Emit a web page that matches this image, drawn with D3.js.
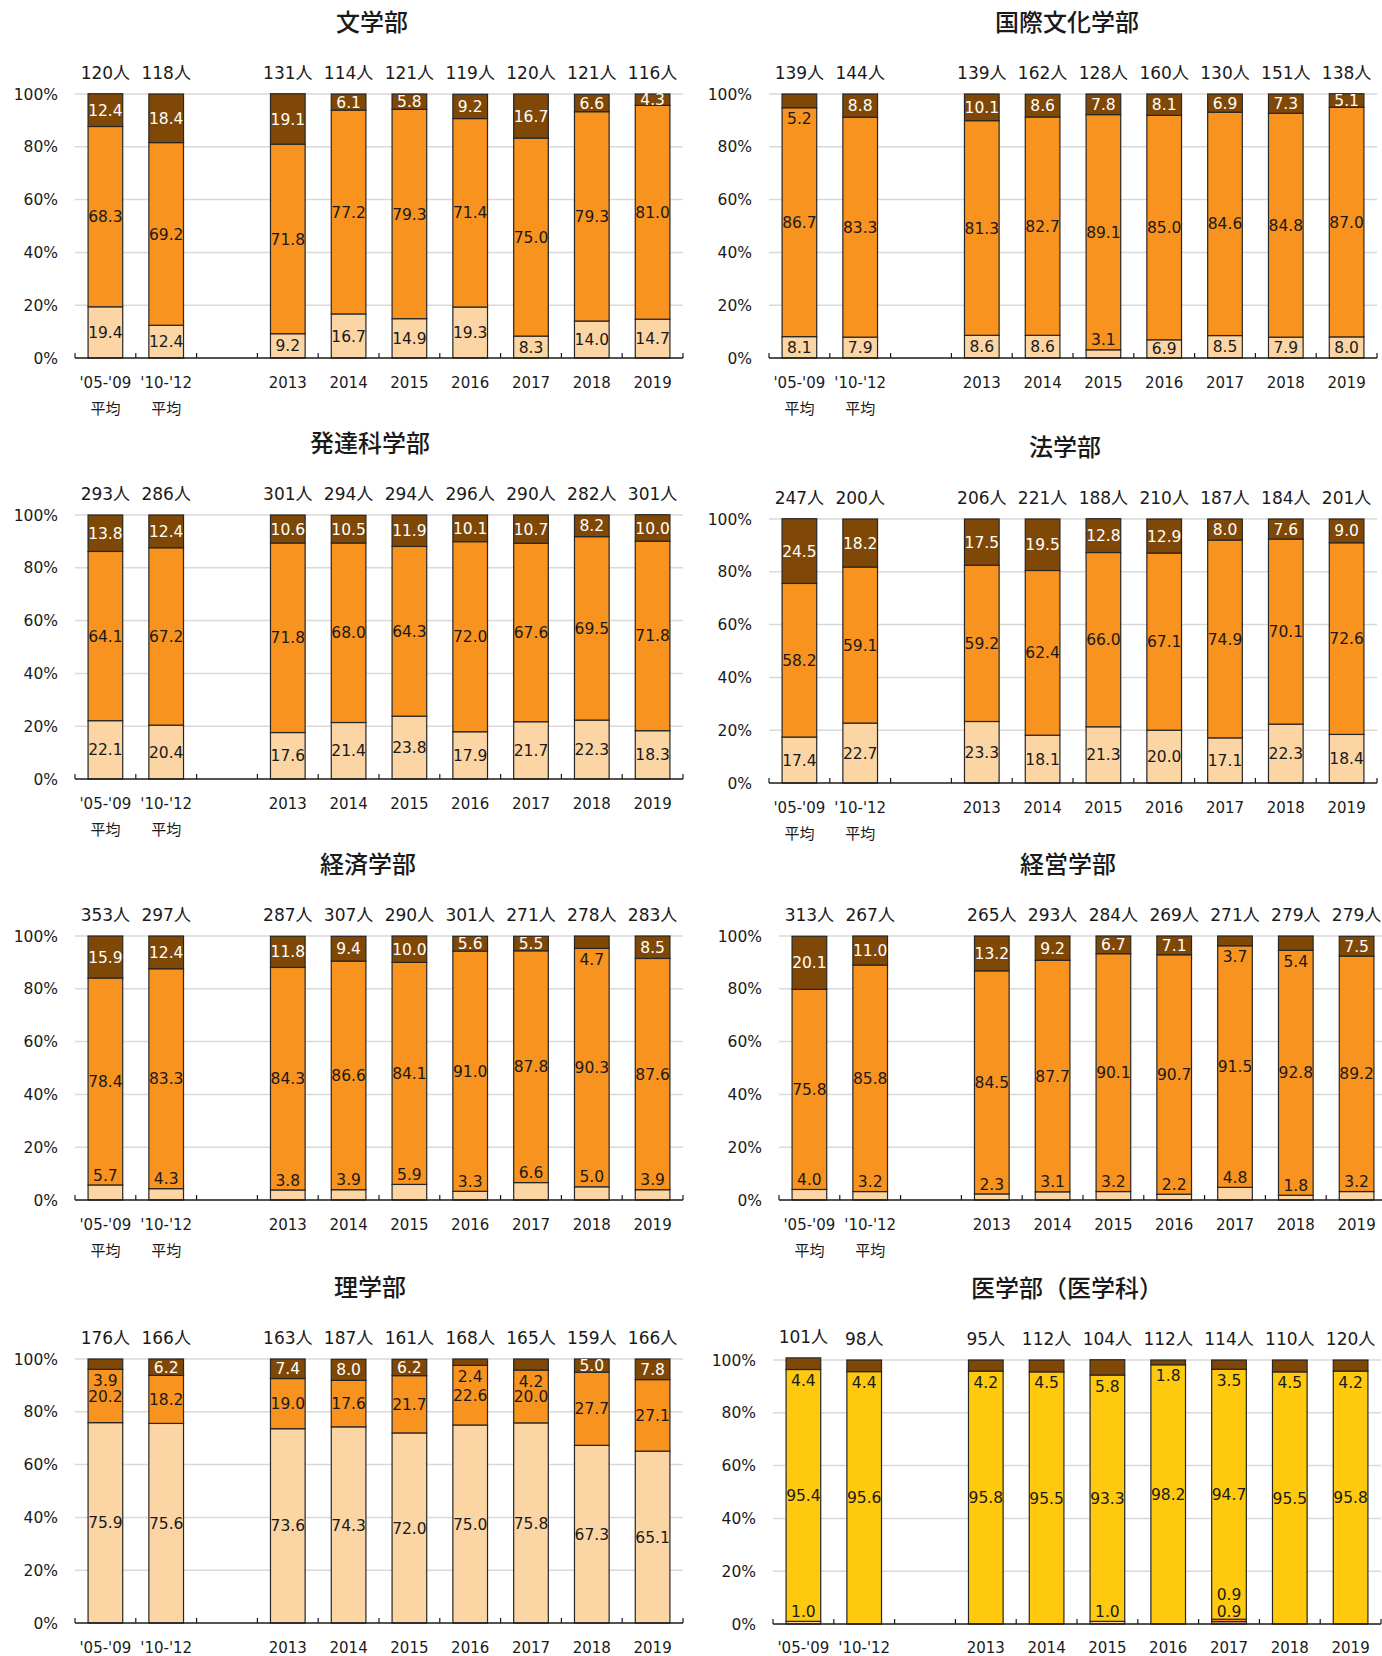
<!DOCTYPE html>
<html>
<head>
<meta charset="utf-8">
<script src="https://cdn.jsdelivr.net/npm/d3@7"></script>
<style>
  body { margin: 0; background: #fff; }
  text { font-family: "DejaVu Sans", "Noto Sans CJK JP", sans-serif; }
</style>
</head>
<body>
<div id="chart"></div>
<script>
// categories along the x axis (a blank slot sits between the averages and 2013)
const categories = ["'05-'09", "'10-'12", "2013", "2014", "2015", "2016", "2017", "2018", "2019"];
const avgNote = "平均";
const yTicks = [0, 20, 40, 60, 80, 100];
const facultyNames = ["文学部", "国際文化学部", "発達科学部", "法学部", "経済学部", "経営学部", "理学部", "医学部（医学科）"];

// 文学部
const bunCounts = [120, 118, 131, 114, 121, 119, 120, 121, 116];
const bunLow = [19.4, 12.4, 9.2, 16.7, 14.9, 19.3, 8.3, 14.0, 14.7];
const bunMid = [68.3, 69.2, 71.8, 77.2, 79.3, 71.4, 75.0, 79.3, 81.0];
const bunTop = [12.4, 18.4, 19.1, 6.1, 5.8, 9.2, 16.7, 6.6, 4.3];

// 国際文化学部
const kokCounts = [139, 144, 139, 162, 128, 160, 130, 151, 138];
const kokLow = [8.1, 7.9, 8.6, 8.6, 3.1, 6.9, 8.5, 7.9, 8.0];
const kokMid = [86.7, 83.3, 81.3, 82.7, 89.1, 85.0, 84.6, 84.8, 87.0];
const kokTop = [5.2, 8.8, 10.1, 8.6, 7.8, 8.1, 6.9, 7.3, 5.1];

// 発達科学部
const hatCounts = [293, 286, 301, 294, 294, 296, 290, 282, 301];
const hatLow = [22.1, 20.4, 17.6, 21.4, 23.8, 17.9, 21.7, 22.3, 18.3];
const hatMid = [64.1, 67.2, 71.8, 68.0, 64.3, 72.0, 67.6, 69.5, 71.8];
const hatTop = [13.8, 12.4, 10.6, 10.5, 11.9, 10.1, 10.7, 8.2, 10.0];

// 法学部
const houCounts = [247, 200, 206, 221, 188, 210, 187, 184, 201];
const houLow = [17.4, 22.7, 23.3, 18.1, 21.3, 20.0, 17.1, 22.3, 18.4];
const houMid = [58.2, 59.1, 59.2, 62.4, 66.0, 67.1, 74.9, 70.1, 72.6];
const houTop = [24.5, 18.2, 17.5, 19.5, 12.8, 12.9, 8.0, 7.6, 9.0];

// 経済学部
const keizCounts = [353, 297, 287, 307, 290, 301, 271, 278, 283];
const keizLow = [5.7, 4.3, 3.8, 3.9, 5.9, 3.3, 6.6, 5.0, 3.9];
const keizMid = [78.4, 83.3, 84.3, 86.6, 84.1, 91.0, 87.8, 90.3, 87.6];
const keizTop = [15.9, 12.4, 11.8, 9.4, 10.0, 5.6, 5.5, 4.7, 8.5];

// 経営学部
const keieCounts = [313, 267, 265, 293, 284, 269, 271, 279, 279];
const keieLow = [4.0, 3.2, 2.3, 3.1, 3.2, 2.2, 4.8, 1.8, 3.2];
const keieMid = [75.8, 85.8, 84.5, 87.7, 90.1, 90.7, 91.5, 92.8, 89.2];
const keieTop = [20.1, 11.0, 13.2, 9.2, 6.7, 7.1, 3.7, 5.4, 7.5];

// 理学部
const riCounts = [176, 166, 163, 187, 161, 168, 165, 159, 166];
const riLow = [75.9, 75.6, 73.6, 74.3, 72.0, 75.0, 75.8, 67.3, 65.1];
const riMid = [20.2, 18.2, 19.0, 17.6, 21.7, 22.6, 20.0, 27.7, 27.1];
const riTop = [3.9, 6.2, 7.4, 8.0, 6.2, 2.4, 4.2, 5.0, 7.8];

// 医学部（医学科）
const igaCounts = [101, 98, 95, 112, 104, 112, 114, 110, 120];
const igaLow = [1.0, 0, 0, 0, 1.0, 0, 0.9, 0, 0];
const igaMid = [0, 0, 0, 0, 0, 0, 0.9, 0, 0];
const igaMain = [95.4, 95.6, 95.8, 95.5, 93.3, 98.2, 94.7, 95.5, 95.8];
const igaTop = [4.4, 4.4, 4.2, 4.5, 5.8, 1.8, 3.5, 4.5, 4.2];

const colors = { low: "#fcd5a5", mid: "#f7931e", main: "#ffc90e", top: "#7f4806" };

const panels = [
  { name: facultyNames[0], counts: bunCounts, series: { low: bunLow, mid: bunMid, top: bunTop } },
  { name: facultyNames[1], counts: kokCounts, series: { low: kokLow, mid: kokMid, top: kokTop } },
  { name: facultyNames[2], counts: hatCounts, series: { low: hatLow, mid: hatMid, top: hatTop } },
  { name: facultyNames[3], counts: houCounts, series: { low: houLow, mid: houMid, top: houTop } },
  { name: facultyNames[4], counts: keizCounts, series: { low: keizLow, mid: keizMid, top: keizTop } },
  { name: facultyNames[5], counts: keieCounts, series: { low: keieLow, mid: keieMid, top: keieTop } },
  { name: facultyNames[6], counts: riCounts, series: { low: riLow, mid: riMid, top: riTop } },
  { name: facultyNames[7], counts: igaCounts, series: { low: igaLow, mid: igaMid, main: igaMain, top: igaTop } }
];

// where each small chart sits on the page
const layout = [
  { left: 75, top: 94, titleDx: -7, note: true },
  { left: 769, top: 94, titleDx: -6, note: true },
  { left: 75, top: 515, titleDx: -9, note: true },
  { left: 769, top: 519, titleDx: -8, note: true },
  { left: 75, top: 936, titleDx: -11, note: true },
  { left: 779, top: 936, titleDx: -15, note: true },
  { left: 75, top: 1359, titleDx: -9, note: false },
  { left: 773, top: 1360, titleDx: -10, note: false }
];
const plotW = 608, plotH = 264;

// labels that were pushed outside their small segment in the original
// [panel, category index, series]: "top" goes just under the segment, others just above it
const outside = [
  [1, 0, "top"], [1, 4, "low"],
  [4, 7, "top"],
  [5, 6, "top"], [5, 7, "top"],
  [6, 0, "top"], [6, 5, "top"], [6, 6, "top"],
  [7, 0, "low"], [7, 4, "low"], [7, 6, "low"], [7, 6, "mid"]
];
categories.forEach((c, i) => { outside.push([4, i, "low"]); outside.push([5, i, "low"]); });
categories.forEach((c, i) => { outside.push([7, i, "top"]); });
const isOutside = (p, i, k) => outside.some(o => o[0] === p && o[1] === i && o[2] === k);

const W = 1382, H = 1656;
const svg = d3.select("#chart").append("svg")
  .attr("width", W).attr("height", H)
  .style("background", "#fff");

const slots = [categories[0], categories[1], "gap"].concat(categories.slice(2));

panels.forEach((panel, p) => {
  const L = layout[p].left, T = layout[p].top;
  const g = svg.append("g");

  const x = d3.scaleBand().domain(slots).range([L, L + plotW])
    .paddingInner(0.43).paddingOuter(0.215);
  const y = d3.scaleLinear().domain([0, 100]).range([T + plotH, T]);

  // gridlines
  g.selectAll(".grid").data(yTicks.filter(t => t > 0)).join("line")
    .attr("x1", L).attr("x2", L + plotW)
    .attr("y1", d => y(d)).attr("y2", d => y(d))
    .attr("stroke", "#d9d9d9").attr("stroke-width", 1.5);

  // y tick labels
  g.selectAll(".ytick").data(yTicks).join("text")
    .attr("x", L - 17).attr("y", d => y(d)).attr("dy", "0.36em")
    .attr("text-anchor", "end").attr("font-size", 15.5).attr("fill", "#1a1a1a")
    .text(d => d + "%");

  const keys = Object.keys(panel.series);
  const rows = categories.map((c, i) => {
    const r = { cat: c, idx: i };
    keys.forEach(k => { r[k] = panel.series[k][i]; });
    return r;
  });
  const stacked = d3.stack().keys(keys)(rows);

  // bars
  stacked.forEach(s => {
    g.append("g").selectAll("rect").data(s.filter(d => d[1] - d[0] > 0)).join("rect")
      .attr("x", d => x(d.data.cat))
      .attr("width", x.bandwidth())
      .attr("y", d => y(d[1]))
      .attr("height", d => y(d[0]) - y(d[1]))
      .attr("fill", colors[s.key])
      .attr("stroke", "#262626").attr("stroke-width", 1.2);
  });

  // x axis line with inward ticks at slot boundaries
  const y0 = y(0);
  g.append("line").attr("x1", L).attr("x2", L + plotW).attr("y1", y0).attr("y2", y0)
    .attr("stroke", "#1a1a1a").attr("stroke-width", 1.5);
  const bounds = slots.map(s => x(s) - x.step() * x.paddingInner() / 2).concat([L + plotW]);
  g.selectAll(".xt").data(bounds).join("line")
    .attr("x1", d => d).attr("x2", d => d).attr("y1", y0).attr("y2", y0 - 5)
    .attr("stroke", "#1a1a1a").attr("stroke-width", 1.2);

  // x labels (the bottom row runs into the page edge, as in the original)
  const cx = c => x(c) + x.bandwidth() / 2;
  g.selectAll(".xl").data(categories).join("text")
    .attr("x", cx).attr("y", Math.min(T + 294, H - 3))
    .attr("text-anchor", "middle").attr("font-size", 15).attr("fill", "#1a1a1a")
    .text(d => d);
  if (layout[p].note) {
    g.selectAll(".xl2").data(categories.slice(0, 2)).join("text")
      .attr("x", cx).attr("y", T + 320)
      .attr("text-anchor", "middle").attr("font-size", 15).attr("fill", "#1a1a1a")
      .style("font-family", "'Noto Sans CJK JP', sans-serif")
      .text(avgNote);
  }

  // segment value labels
  categories.forEach((c, i) => {
    let lastAbove = null;
    stacked.forEach(s => {
      const d = s[i];
      const v = d[1] - d[0];
      if (!(v > 0)) return;
      const segTop = y(d[1]), segBot = y(d[0]);
      let cy = (segTop + segBot) / 2;
      let fill = s.key === "top" ? "#ffffff" : "#1a1a1a";
      if (isOutside(p, i, s.key)) {
        fill = "#1a1a1a";
        if (s.key === "top") {
          cy = segBot + 11;
        } else {
          cy = segTop - 10;
          if (lastAbove !== null) cy = Math.min(cy, lastAbove - 17);
          lastAbove = cy;
        }
      }
      g.append("text")
        .attr("x", cx(c)).attr("y", cy).attr("dy", "0.36em")
        .attr("text-anchor", "middle").attr("font-size", 15.5).attr("fill", fill)
        .text(panel.series[s.key][i].toFixed(1));
    });
  });

  // headcount above each bar
  const last = stacked[stacked.length - 1];
  g.selectAll(".cnt").data(categories).join("text")
    .attr("x", cx).attr("y", (c, i) => y(last[i][1]) - 15)
    .attr("text-anchor", "middle").attr("font-size", 17).attr("fill", "#1a1a1a")
    .text((c, i) => panel.counts[i] + "人");

  // title
  g.append("text")
    .attr("x", L + plotW / 2 + layout[p].titleDx).attr("y", T - 63)
    .attr("text-anchor", "middle").attr("font-size", 24).attr("font-weight", 500)
    .attr("fill", "#1a1a1a")
    .style("font-family", "'Noto Sans CJK JP', sans-serif")
    .text(panel.name);
});
</script>
</body>
</html>
